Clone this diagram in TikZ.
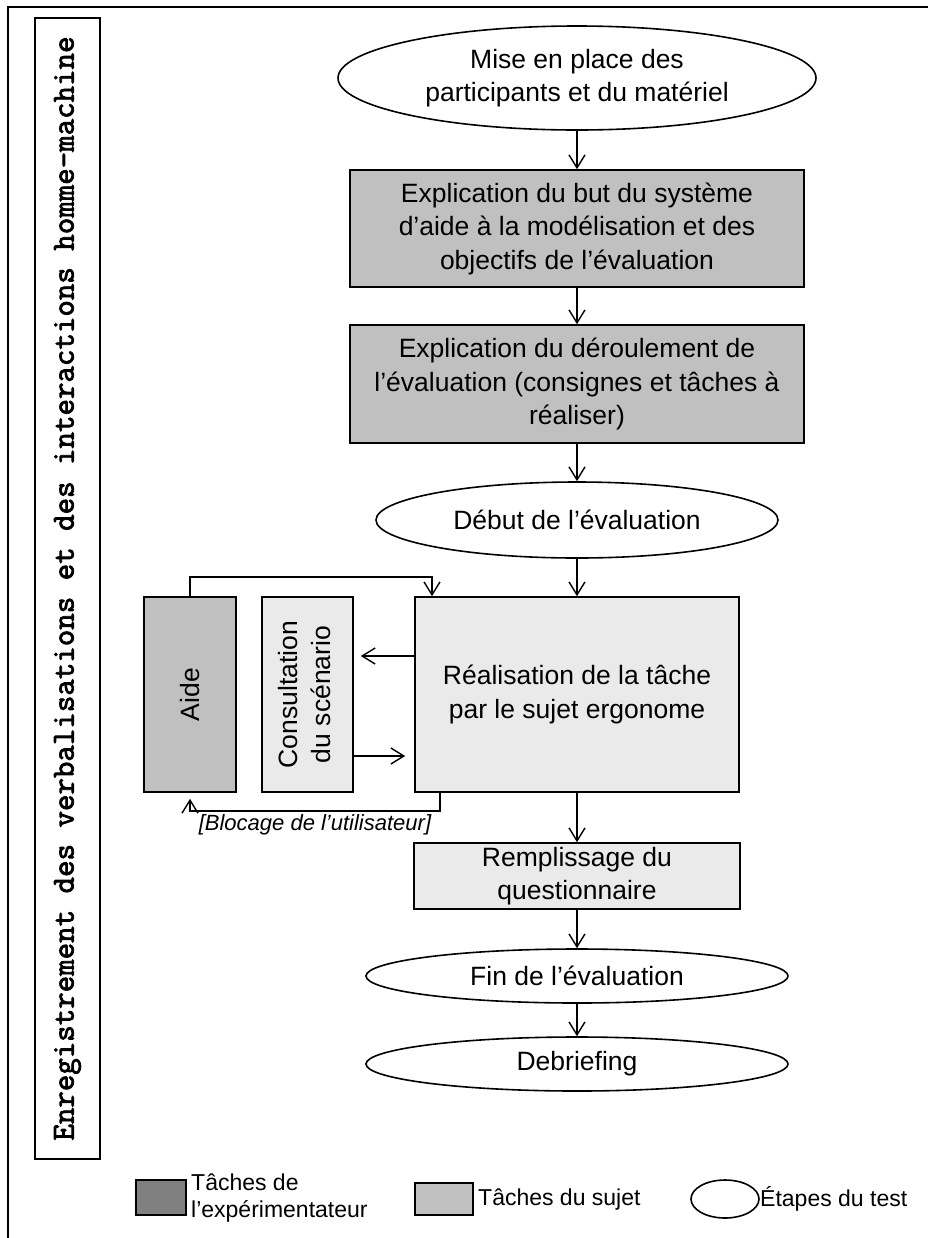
\documentclass[tikz,border=0pt]{standalone}
\usepackage{fontspec}
\setmainfont{Liberation Sans}
\newfontfamily\enregfont[FakeBold=2.5]{Latin Modern Mono}
\usetikzlibrary{arrows.meta,shapes.geometric}

\definecolor{grisfonce}{HTML}{C0C0C0}
\definecolor{grisclair}{HTML}{EAEAEA}
\definecolor{legendefonce}{HTML}{808080}

\newcommand{\textenormal}{\fontsize{13.25}{16.75}\selectfont}
\newcommand{\textepetit}{\fontsize{11.5}{13.5}\selectfont}

\begin{document}
\begin{tikzpicture}[
        x=0.5pt, y=-0.5pt,
        >={Straight Barb[length=6.5pt,width=8pt]},
        etape/.style={ellipse,draw,line width=0.8pt,inner sep=0pt,align=center,font=\textenormal},
        tache/.style={rectangle,draw,line width=0.8pt,inner sep=0pt,align=center,font=\textenormal},
        tacheexp/.style={tache,fill=grisfonce},
        tachesujet/.style={tache,fill=grisclair},
        fleche/.style={->,line width=0.7pt},
        legende/.style={right,inner sep=2pt,align=left,font=\textepetit},
    ]

\useasboundingbox (0,0) rectangle (928,1238);

% cadre
\draw[line width=1pt] (8,1238) -- (8,7) -- (928,7);

\node[tache,minimum width=32.5pt,minimum height=570.5pt] (enreg) at (67.5,588.5)
    {\rotatebox{90}{\fontsize{16}{18}\selectfont\enregfont Enregistrement des verbalisations et des interactions homme-machine}};

% deroulement du test
\node[etape,minimum width=239pt,minimum height=52pt] (mise) at (577,78)
    {Mise en place des\\participants et du matériel};
\node[tacheexp,minimum width=227pt,minimum height=58.5pt] (but) at (577,228.5)
    {Explication du but du système\\d'aide à la modélisation et des\\objectifs de l'évaluation};
\node[tacheexp,minimum width=227pt,minimum height=59pt] (deroul) at (577,384)
    {Explication du déroulement de\\l'évaluation (consignes et tâches à\\réaliser)};
\node[etape,minimum width=201pt,minimum height=38pt] (debut) at (577,520)
    {Début de l'évaluation};
\node[tachesujet,minimum width=162pt,minimum height=97.5pt] (real) at (577,694.5)
    {Réalisation de la tâche\\par le sujet ergonome};
\node[tacheexp,minimum width=46pt,minimum height=97.5pt] (aide) at (190,694.5)
    {\rotatebox{90}{Aide}};
\node[tachesujet,minimum width=45.5pt,minimum height=97.5pt] (consult) at (307.5,694.5)
    {\rotatebox{90}{\begin{tabular}{@{}c@{}}Consultation\\du scénario\end{tabular}}};
\node[tachesujet,minimum width=163pt,minimum height=33pt] (rempl) at (577,876)
    {Remplissage du\\questionnaire};
\node[etape,minimum width=211pt,minimum height=27pt] (fin) at (577,976)
    {Fin de l'évaluation};
\node[etape,minimum width=211pt,minimum height=27pt] (debrief) at (577,1064)
    {Debriefing};

\draw[fleche] (mise) -- (but);
\draw[fleche] (but) -- (deroul);
\draw[fleche] (deroul) -- (debut);
\draw[fleche] (debut) -- (real);
\draw[fleche] (real) -- (rempl);
\draw[fleche] (rempl) -- (fin);
\draw[fleche] (fin) -- (debrief);

\draw[fleche,shorten >=3.5pt] (real.west |- 0,656) -- (consult.east |- 0,656);
\draw[fleche,shorten >=4.5pt] (consult.east |- 0,756) -- (real.west |- 0,756);
\draw[fleche] (aide.north) -- (aide.north |- 0,577) -| (real.north -| 432,0);
\draw[fleche,shorten >=3pt] (real.south -| 440,0) -- (440,811)
    -- node[below,font=\fontsize{11}{13}\selectfont\itshape,inner sep=1.5pt] (blocage) {[Blocage de l'utilisateur]} (aide.south |- 0,811)
    -- (aide.south);

% legende
\node[tache,fill=legendefonce,minimum width=25pt,minimum height=17.5pt] (legexp) at (161,1197.5) {};
\node[legende] (legexptxt) at (legexp.east) {Tâches de\\l'expérimentateur};
\node[tache,fill=grisfonce,minimum width=29pt,minimum height=16pt] (legsujet) at (444,1199) {};
\node[legende] (legsujettxt) at (legsujet.east) {Tâches du sujet};
\node[etape,minimum width=34pt,minimum height=19pt] (legetape) at (725,1199) {};
\node[legende,inner sep=0pt] (legetapetxt) at (legetape.east) {Étapes du test};

\end{tikzpicture}
\end{document}
